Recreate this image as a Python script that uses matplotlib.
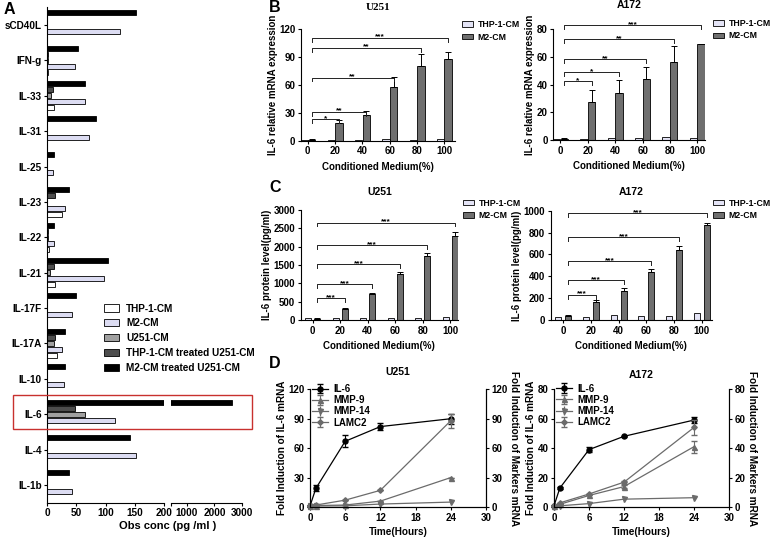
import matplotlib
matplotlib.use('Agg')
import matplotlib.pyplot as plt
import matplotlib.patches as mpatches
import numpy as np

plt.rcParams['font.family'] = ['Liberation Sans', 'DejaVu Sans']
plt.rcParams['font.weight'] = 'bold'
plt.rcParams['axes.labelweight'] = 'bold'
plt.rcParams['axes.titleweight'] = 'bold'
plt.rcParams['font.size'] = 7
plt.rcParams['axes.linewidth'] = 0.8
plt.rcParams['xtick.major.size'] = 2.5
plt.rcParams['ytick.major.size'] = 2.5
plt.rcParams['xtick.major.width'] = 0.8
plt.rcParams['ytick.major.width'] = 0.8
plt.rcParams['xtick.major.pad'] = 1.5
plt.rcParams['ytick.major.pad'] = 1.5
plt.rcParams['axes.labelpad'] = 1.5

# ---- panel A data (pg/ml) ----
cytokines = ['sCD40L', 'IFN-g', 'IL-33', 'IL-31', 'IL-25', 'IL-23', 'IL-22',
             'IL-21', 'IL-17F', 'IL-17A', 'IL-10', 'IL-6', 'IL-4', 'IL-1b']
thp1_cm = [0, 1, 11, 0, 0, 26, 2.5, 14, 0, 17, 0, 0, 0, 0]
m2_cm = [125, 48, 65, 72, 10, 31, 11, 97, 42, 25, 29, 117, 153, 42]
u251_cm = [0, 2, 7, 0, 0, 0, 1, 5, 0, 12, 0, 65, 0, 0]
thp1_u251 = [0, 2, 9, 0, 0, 14, 1.5, 11, 0, 13, 0, 47, 0, 0]
m2_u251 = [152, 52, 65, 84, 12, 38, 12, 104, 50, 30, 30, 2650, 142, 38]
a_labels = ['THP-1-CM', 'M2-CM', 'U251-CM', 'THP-1-CM treated U251-CM',
            'M2-CM treated U251-CM']
a_ticks_left = [0, 50, 100, 150, 200]
a_ticks_right = [1000, 2000, 3000]

# ---- panel B data (relative mRNA) ----
cm_percent = ['0', '20', '40', '60', '80', '100']
b_u251_thp = [1, 1, 1, 1.5, 1, 1.5]
b_u251_m2 = [1, 19, 27.7, 57.5, 80, 87.7]
b_u251_err = [0.3, 3, 4.5, 11, 13.5, 8]
b_u251_brk = [23, 31, 68, 100, 111]
b_u251_stars = ['*', '**', '**', '**', '***']

b_a172_thp = [0.8, 0.5, 1.2, 1.2, 2, 1.2]
b_a172_m2 = [0.8, 27.7, 34, 44.2, 56.1, 69.3]
b_a172_err = [0.3, 8.5, 9.5, 8.5, 11.7, 0.4]
b_a172_brk = [42.3, 49, 58.3, 72.7, 83]
b_a172_stars = ['*', '*', '**', '**', '***']

# ---- panel C data (pg/ml) ----
c_u251_thp = [50, 55, 60, 60, 65, 70]
c_u251_m2 = [40, 300, 700, 1245, 1755, 2300]
c_u251_err = [5, 30, 35, 60, 70, 100]
c_u251_brk = [590, 970, 1527, 2045, 2655]
c_a172_thp = [30, 27, 48, 39, 39, 60]
c_a172_m2 = [39, 167, 267, 439, 636, 873]
c_a172_err = [4, 12, 27, 30, 45, 18]
c_a172_brk = [230, 364, 536, 755, 976]
c_stars = ['***'] * 5

# ---- panel D data (fold induction) ----
hours = [0, 1, 6, 12, 24]
d_u251_il6 = [1, 19, 67, 82, 90]
d_u251_il6_err = [0, 3, 6, 4, 5]
d_u251_mmp9 = [1, 1.5, 2, 6, 30]
d_u251_mmp14 = [1, 1, 1.2, 3, 5]
d_u251_lamc2 = [1, 2, 7, 17, 88]
d_u251_lamc2_err = [0, 0, 0, 0, 7]

d_a172_il6 = [1, 13, 39, 48, 59]
d_a172_il6_err = [0, 0.5, 1.5, 0.5, 2]
d_a172_mmp9 = [1, 2, 8, 14, 41]
d_a172_mmp9_err = [0, 0, 0, 1, 4]
d_a172_mmp14 = [0.5, 1, 2.5, 5.5, 6.5]
d_a172_lamc2 = [1, 3, 9, 17, 54]
d_a172_lamc2_err = [0, 0, 0, 1, 5]

W, H = 773, 537
fig = plt.figure(figsize=(W / 100, H / 100), dpi=100)


def px_rect(l, r, t, b):
    return [l / W, (H - b) / H, (r - l) / W, (b - t) / H]


def fx(x):
    return x / W


def fy(y):
    return 1 - y / H


# ================= panel A =================
axA = fig.add_axes(px_rect(47.3, 163.7, 7.3, 502.7))
axA2 = fig.add_axes(px_rect(171, 242, 7.3, 502.7))
axA2.patch.set_visible(False)
a_colors = ['#ffffff', '#dcdcf2', '#a0a0a0', '#4e4e4e', '#000000']
a_series = [thp1_cm, m2_cm, u251_cm, thp1_u251, m2_u251]
a_slot = [2, 1, 0, -1, -2]
ypos = np.arange(len(cytokines))
handles = []
for vals, col, slot, lab in zip(a_series, a_colors, a_slot, a_labels):
    for ax in (axA, axA2):
        b = ax.barh(ypos + slot * 0.1725, vals, height=0.14, color=col,
                    edgecolor='black', linewidth=0.6, label=lab)
    handles.append(b)

for ax in (axA, axA2):
    ax.set_ylim(13.5, -0.5)
    ax.spines['top'].set_visible(False)
    ax.spines['right'].set_visible(False)
axA.set_xlim(0, 200)
axA.set_xticks(a_ticks_left)
axA.set_yticks(ypos)
axA.set_yticklabels(cytokines, fontsize=7.2)
axA.tick_params(axis='x', labelsize=7.2)
axA2.set_xlim(420, 3000)
axA2.set_xticks([420] + a_ticks_right, [''] + [str(t) for t in a_ticks_right])
axA2.tick_params(axis='x', labelsize=7.2)
axA2.spines['left'].set_visible(False)
axA2.set_yticks([])
fig.text(fx(168), fy(525.7), 'Obs conc (pg /ml )', ha='center', va='center',
         fontsize=8)
fig.legend(handles=handles, loc='upper left', frameon=False,
           bbox_to_anchor=(fx(104), fy(303.5)), bbox_transform=fig.transFigure,
           fontsize=7.2, handlelength=1.5, handleheight=0.75,
           handletextpad=0.7, labelspacing=0.48, borderaxespad=0, borderpad=0)
fig.patches.append(mpatches.Rectangle((fx(13), fy(429)), fx(252) - fx(13),
                                      fy(395) - fy(429),
                                      transform=fig.transFigure, fill=False,
                                      edgecolor='#c8312e', linewidth=1.0))

# ================= panels B / C =================
THP_COL = '#e4e4f6'
M2_COL = '#6f6f6f'


def grouped(rect, xlim, thp, m2, err, brk, stars, ymax, ystep, ylabel,
            title, off, width, leg_xy, title_pad, title_font=None):
    ax = fig.add_axes(px_rect(*rect))
    x = np.arange(len(cm_percent))
    b1 = ax.bar(x - off, thp, width, color=THP_COL, edgecolor='black',
                linewidth=0.6, label='THP-1-CM')
    b2 = ax.bar(x + off, m2, width, color=M2_COL, edgecolor='black',
                linewidth=0.6, label='M2-CM')
    ax.errorbar(x + off, m2, yerr=[np.zeros(len(err)), err], fmt='none',
                ecolor='black', elinewidth=0.7, capsize=2, capthick=0.7)
    drop = ymax * 0.035
    for i, (yb, st) in enumerate(zip(brk, stars)):
        x0, x1 = off, i + 1 + off
        ax.plot([x0, x0, x1, x1], [yb - drop, yb, yb, yb - drop],
                color='#222222', lw=0.7, clip_on=False)
        ax.annotate(st, xy=((x0 + x1) / 2, yb), xytext=(0, -2),
                    textcoords='offset points', ha='center', va='bottom',
                    fontsize=6, annotation_clip=False)
    ax.set_xlim(*xlim)
    ax.set_ylim(0, ymax)
    ax.set_yticks(np.arange(0, ymax + ystep / 2, ystep))
    ax.set_xticks(x)
    ax.set_xticklabels(cm_percent)
    ax.spines['top'].set_visible(False)
    ax.spines['right'].set_visible(False)
    ax.set_xlabel('Conditioned Medium(%)', labelpad=4)
    ax.set_ylabel(ylabel, labelpad=1)
    kw = {}
    if title_font:
        kw['fontfamily'] = title_font
        kw['fontsize'] = 8
    else:
        kw['fontsize'] = 7.5
    ax.set_title(title, pad=title_pad, **kw)
    ax.legend(handles=[b1, b2], loc='upper left', frameon=False,
              bbox_to_anchor=(fx(leg_xy[0]), fy(leg_xy[1])),
              bbox_transform=fig.transFigure, fontsize=6.3, handlelength=1.3,
              handleheight=0.6, handletextpad=0.5, labelspacing=0.4,
              borderaxespad=0, borderpad=0)
    return ax


grouped((300.7, 455, 29.3, 140.7), (-0.26, 5.39), b_u251_thp, b_u251_m2,
        b_u251_err, b_u251_brk, b_u251_stars, 120, 30,
        'IL-6 relative mRNA expression', 'U251', 0.14, 0.27, (462, 20), 14,
        title_font='Liberation Serif')
grouped((553.3, 705, 29.3, 140), (-0.26, 5.28), b_a172_thp, b_a172_m2,
        b_a172_err, b_a172_brk, b_a172_stars, 80, 20,
        'IL-6 relative mRNA expression', 'A172', 0.14, 0.27, (713, 19), 15)
grouped((300.7, 458, 210, 320), (-0.44, 5.28), c_u251_thp, c_u251_m2,
        c_u251_err, c_u251_brk, c_stars, 3000, 500,
        'IL-6 protein level(pg/ml)', 'U251', 0.16, 0.22, (463, 198.5), 11)
grouped((550.7, 711.7, 210.7, 320), (-0.455, 5.36), c_a172_thp, c_a172_m2,
        c_a172_err, c_a172_brk, c_stars, 1000, 200,
        'IL-6 protein level(pg/ml)', 'A172', 0.18, 0.22, (713, 198.5), 11)

# ================= panel D =================
LINE_GRAY = '#6b6b6b'


def time_course(rect, il6, il6_err, mmp9, mmp9_err, mmp14, lamc2, lamc2_err,
                ymax, ystep, title, title_pad):
    ax = fig.add_axes(px_rect(*rect))
    axr = ax.twinx()
    h1 = ax.errorbar(hours, il6, yerr=il6_err, color='black', marker='o',
                     ms=3.6, lw=0.9, capsize=2, elinewidth=0.8, label='IL-6',
                     clip_on=False)
    h2 = axr.errorbar(hours, mmp9, yerr=mmp9_err, color=LINE_GRAY, marker='^',
                      ms=3.6, lw=0.9, capsize=2, elinewidth=0.8,
                      label='MMP-9', clip_on=False)
    h3 = axr.errorbar(hours, mmp14, yerr=np.zeros(len(mmp14)), color=LINE_GRAY,
                      marker='v', ms=3.6, lw=0.9, capsize=0, label='MMP-14',
                      clip_on=False)
    h4 = axr.errorbar(hours, lamc2, yerr=lamc2_err, color=LINE_GRAY,
                      marker='D', ms=2.8, lw=0.9, capsize=2, elinewidth=0.8,
                      label='LAMC2', clip_on=False)
    for a in (ax, axr):
        a.set_ylim(0, ymax)
        a.set_yticks(np.arange(0, ymax + ystep / 2, ystep))
        a.spines['top'].set_visible(False)
    ax.set_xlim(0, 30)
    ax.set_xticks(np.arange(0, 31, 6))
    ax.set_xlabel('Time(Hours)', fontsize=7.2, labelpad=3)
    ax.set_ylabel('Fold Induction of IL-6 mRNA', fontsize=7.2, labelpad=1)
    axr.set_ylabel('Fold Induction of Markers mRNA', fontsize=7.2,
                   rotation=270, va='bottom', labelpad=1)
    ax.set_title(title, fontsize=7.5, pad=title_pad)
    ax.legend(handles=[h1, h2, h3, h4], loc='upper left', frameon=False,
              bbox_to_anchor=(0.01, 1.045), handlelength=1.7,
              handletextpad=0.5, labelspacing=0.12, borderaxespad=0,
              borderpad=0)
    return ax


time_course((310, 486, 389.3, 507), d_u251_il6, d_u251_il6_err, d_u251_mmp9,
            np.zeros(5), d_u251_mmp14, d_u251_lamc2, d_u251_lamc2_err,
            120, 30, 'U251', 10)
time_course((554, 729, 389, 507.3), d_a172_il6, d_a172_il6_err, d_a172_mmp9,
            d_a172_mmp9_err, d_a172_mmp14, d_a172_lamc2, d_a172_lamc2_err,
            80, 20, 'A172', 8)

# panel letters
for letter, (x, y) in zip('ABCD', [(9, 10), (275, 8), (275, 187), (275, 364)]):
    fig.text(fx(x), fy(y), letter, fontsize=11.5, ha='center', va='center')

fig.savefig('out.png', dpi=100)
